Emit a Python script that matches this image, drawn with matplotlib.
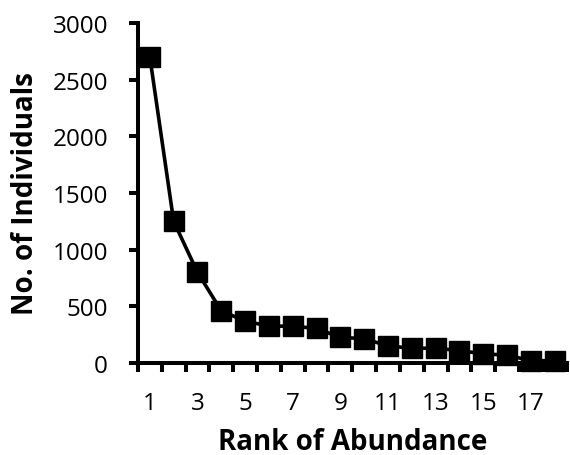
import numpy as np
import matplotlib
matplotlib.use('Agg')
import matplotlib.pyplot as plt

# rank-abundance data
ranks = np.arange(1, 19)
individuals = [2700, 1250, 800, 460, 370, 325, 325, 305, 225, 215,
               150, 130, 130, 110, 80, 70, 20, 20]
ytick_vals = [0, 500, 1000, 1500, 2000, 2500, 3000]
xtick_labels = [1, 3, 5, 7, 9, 11, 13, 15, 17]

plt.rcParams['font.family'] = ['Open Sans', 'DejaVu Sans']

fig = plt.figure(figsize=(5.7, 4.56), dpi=100)
ax = fig.add_axes([0.242, 0.2018, 0.752, 0.7456])

ax.plot(ranks, individuals, color='black', lw=2.6, marker='s',
        markersize=14.5, clip_on=False, zorder=3)

ax.set_xlim(0.5, 18.5)
ax.set_ylim(0, 3000)
ax.set_yticks(ytick_vals)

# category-style axis: tick marks between categories, labels on odd ranks
ax.set_xticks(np.arange(0.5, 19.0, 1.0), minor=True)
ax.set_xticks(xtick_labels)
ax.set_xticklabels([str(v) for v in xtick_labels])
ax.tick_params(axis='x', which='major', length=0, pad=20, labelsize=17.5)
ax.tick_params(axis='x', which='minor', length=6.5, width=2.9, direction='out')
ax.tick_params(axis='y', length=6.5, width=2.9, direction='out', pad=15, labelsize=17.5)

for side in ['top', 'right']:
    ax.spines[side].set_visible(False)
for side in ['left', 'bottom']:
    ax.spines[side].set_linewidth(2.9)

ax.set_xlabel('Rank of Abundance', fontsize=20, fontweight='bold', labelpad=9)
ax.set_ylabel('No. of Individuals', fontsize=20, fontweight='bold', labelpad=9)

fig.savefig('out.png', dpi=100)
